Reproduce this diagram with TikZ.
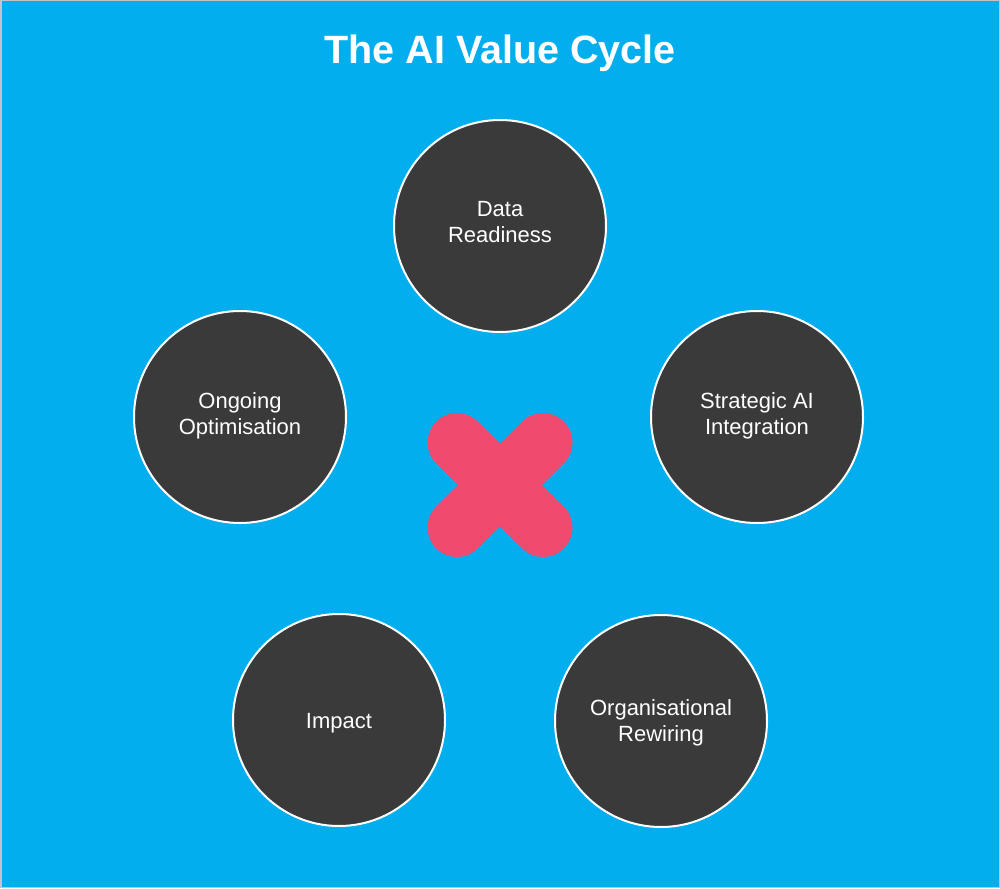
\documentclass[tikz,border=0pt]{standalone}
\usepackage{fontspec}
\setmainfont{Liberation Sans}
\definecolor{bgblue}{HTML}{03AEEF}
\definecolor{circfill}{HTML}{3A3A3A}
\definecolor{xpink}{HTML}{F04A6E}
\definecolor{framegray}{HTML}{C4C4C4}
\begin{document}
\begin{tikzpicture}[x=1pt,y=-1pt,
  stage/.style={circle, draw=white, line width=2pt, fill=circfill, minimum size=212pt,
    inner sep=0pt},
  stagetext/.style={text=white, font=\fontsize{22}{26}\selectfont, align=center, inner sep=0pt},
  crossarm/.style={draw=xpink, line width=59pt, line cap=round}]
\useasboundingbox (0,0) rectangle (1000,888);
\fill[bgblue] (0,0) rectangle (1000,888);
\draw[framegray, line width=1.5pt] (0.75,0.75) rectangle (999.25,887.25);
\node[font=\bfseries\fontsize{39.5}{44}\selectfont, text=white] (title) at (500,53) {The AI Value Cycle};
\node[stage, label={[stagetext, yshift=4pt]center:{Data\\Readiness}}] (data) at (500,226) {};
\node[stage, label={[stagetext, yshift=1pt]center:{Strategic AI\\Integration}}] (strat) at (757,417) {};
\node[stage, label={[stagetext, yshift=-2pt]center:{Organisational\\Rewiring}}] (org) at (661,721) {};
\node[stage, label={[stagetext, yshift=-3pt]center:{Impact}}] (impact) at (339,720) {};
\node[stage, label={[stagetext, yshift=1pt]center:{Ongoing\\Optimisation}}] (opt) at (240,417) {};
\coordinate (xc) at (500,485);
\draw[crossarm] ([shift={(-43,-42.5)}]xc) -- ([shift={(43,42.5)}]xc);
\draw[crossarm] ([shift={(-43,42.5)}]xc) -- ([shift={(43,-42.5)}]xc);
\end{tikzpicture}
\end{document}
